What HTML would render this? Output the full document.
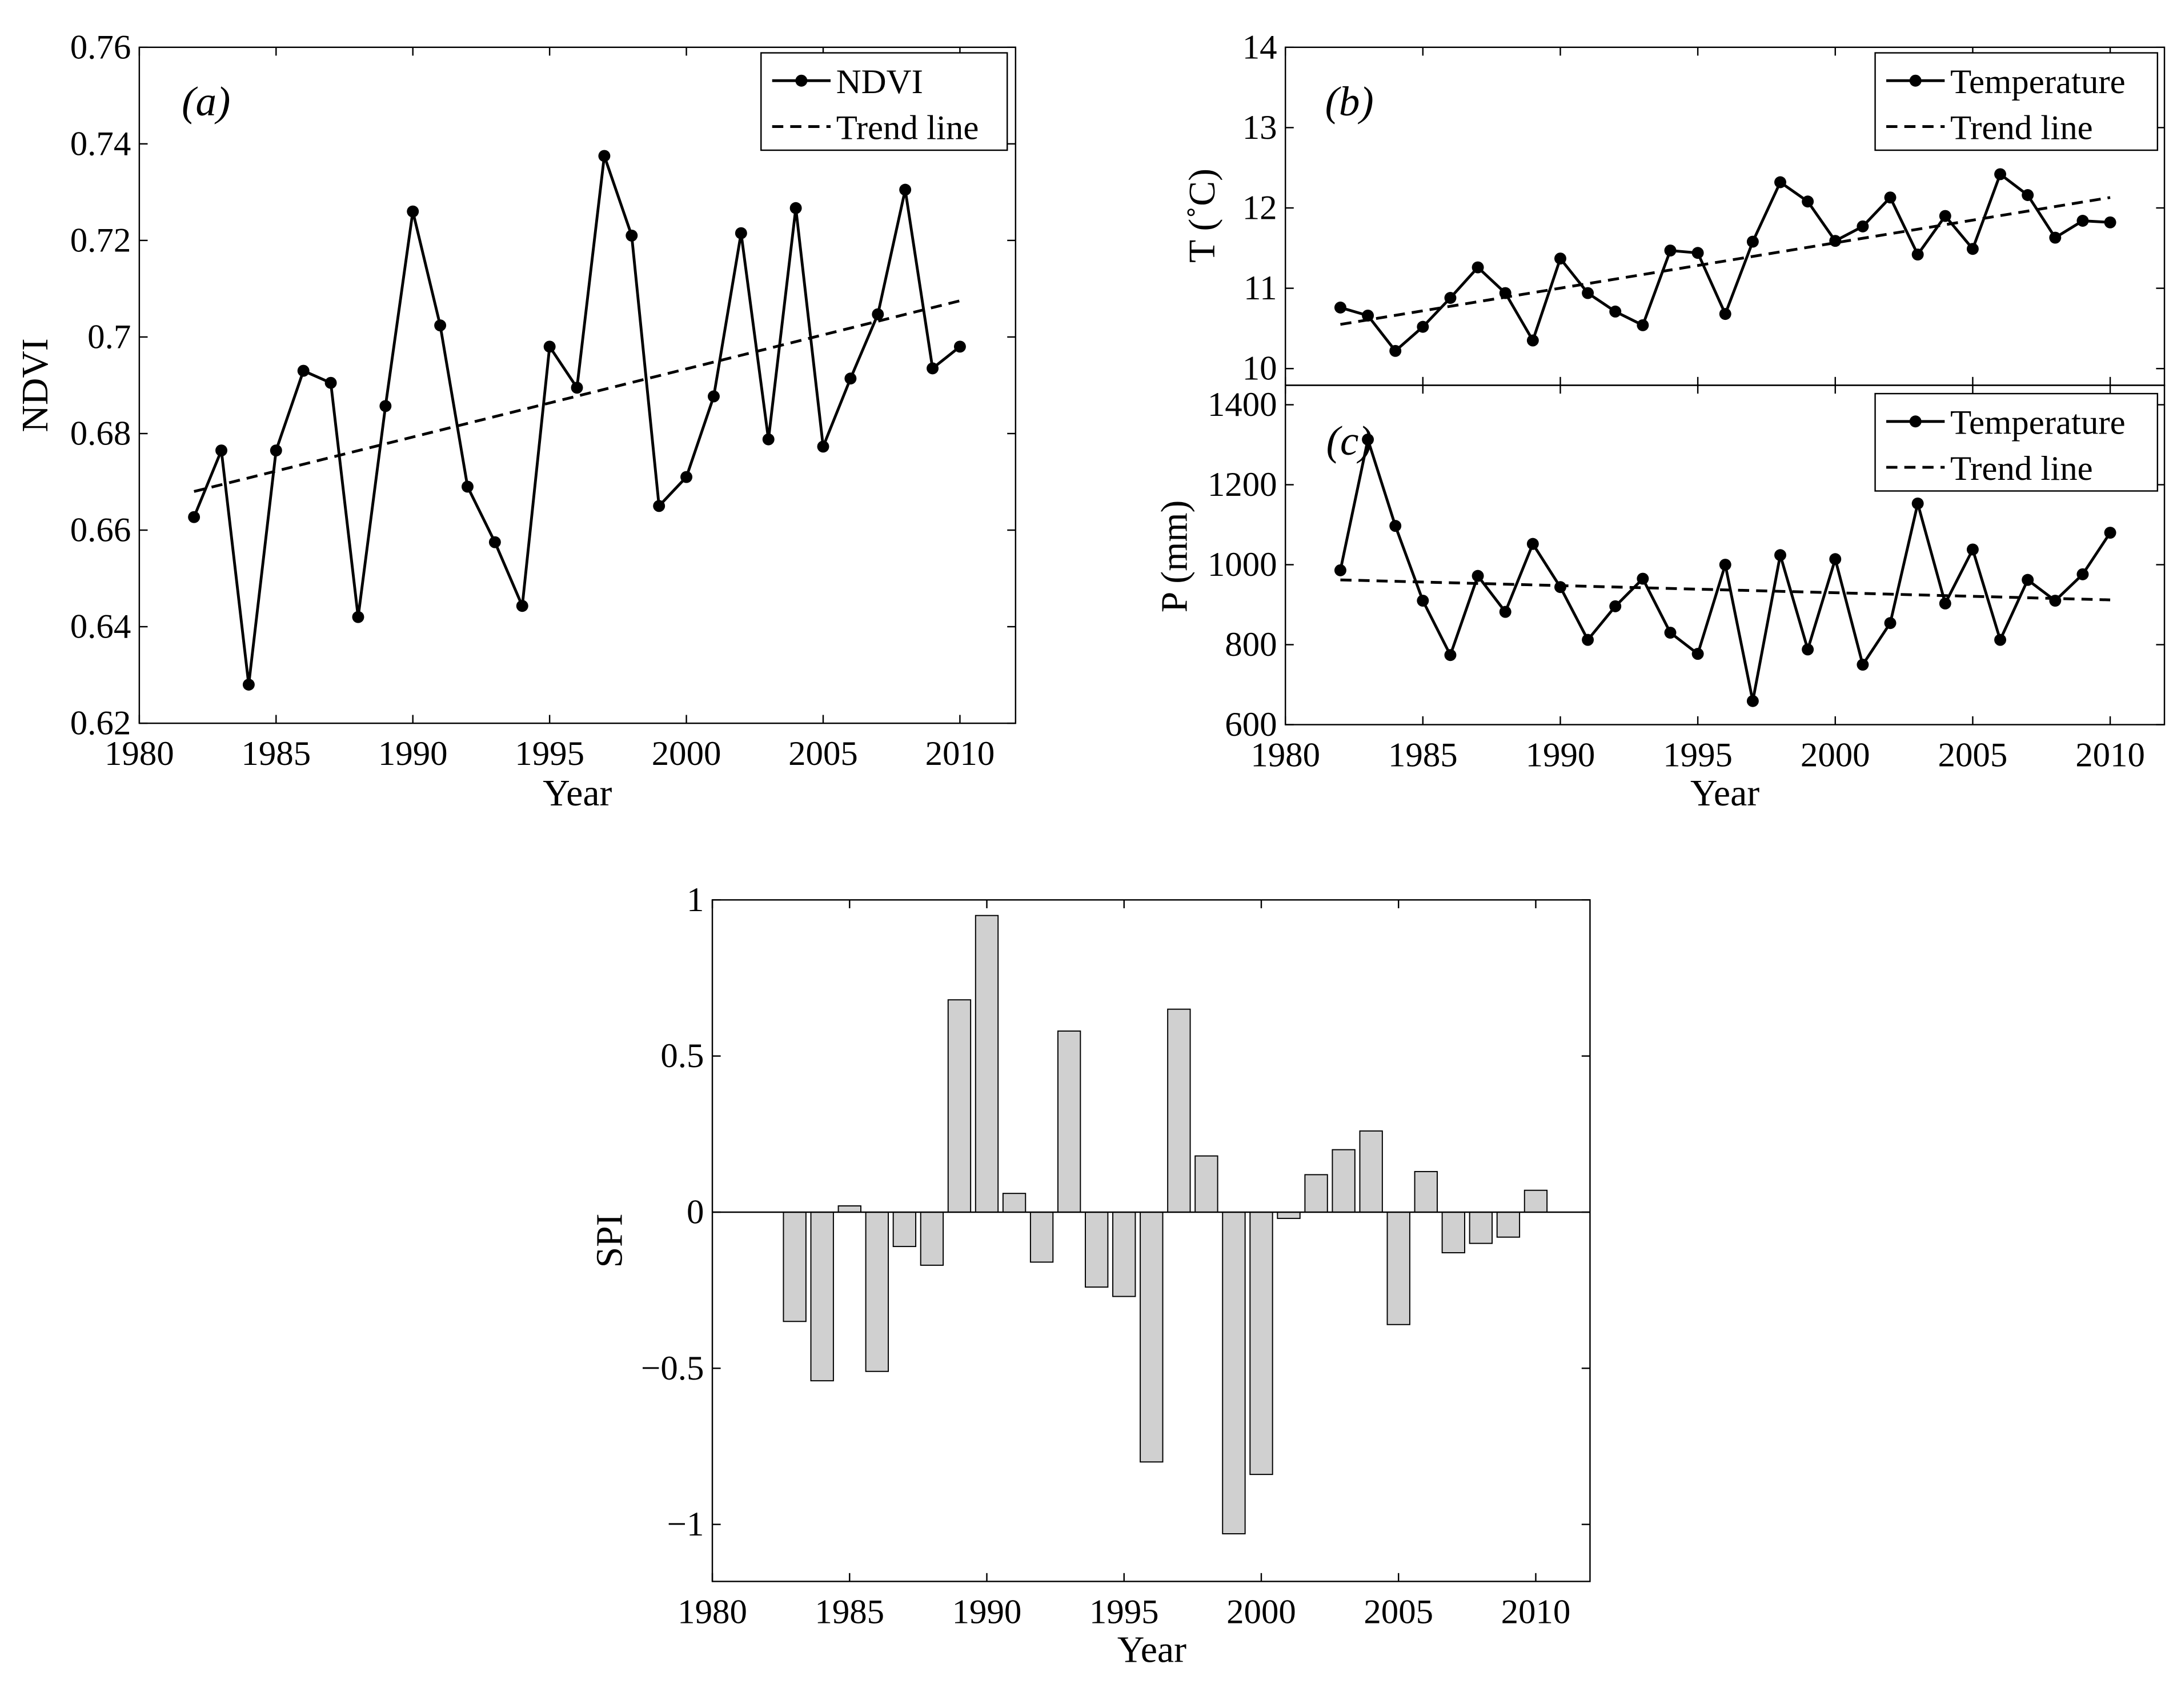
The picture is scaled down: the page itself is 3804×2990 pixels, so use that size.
<!DOCTYPE html>
<html><head><meta charset="utf-8"><style>
html,body{margin:0;padding:0;background:#fff;}
svg{display:block;font-family:"Liberation Serif",serif;}
</style></head><body>
<svg id="fig" width="3804" height="2990" viewBox="0 0 1562 1228" xmlns="http://www.w3.org/2000/svg">
<rect width="1562" height="1228" fill="#fff"/>
</svg>
<script>
const years = [1982,1983,1984,1985,1986,1987,1988,1989,1990,1991,1992,1993,1994,1995,1996,1997,1998,1999,2000,2001,2002,2003,2004,2005,2006,2007,2008,2009,2010];
const ndvi = [0.6627,0.6765,0.628,0.6765,0.693,0.6905,0.642,0.6857,0.726,0.7024,0.669,0.6575,0.6443,0.698,0.6895,0.7375,0.721,0.665,0.671,0.6877,0.7215,0.6788,0.7267,0.6773,0.6914,0.7047,0.7305,0.6935,0.698];
const ndviTrend = [0.668,0.7075];
const temp = [10.76,10.66,10.22,10.52,10.88,11.26,10.94,10.35,11.37,10.94,10.71,10.54,11.47,11.44,10.68,11.58,12.32,12.08,11.59,11.77,12.13,11.42,11.9,11.49,12.42,12.16,11.63,11.84,11.82];
const tempTrend = [10.55,12.13];
const precip = [986,1313,1097,910,774,972,882,1052,944,812,896,965,830,777,1000,659,1024,788,1014,750,854,1153,903,1038,812,962,910,976,1080];
const precipTrend = [962,912];
const spiYears = [1983,1984,1985,1986,1987,1988,1989,1990,1991,1992,1993,1994,1995,1996,1997,1998,1999,2000,2001,2002,2003,2004,2005,2006,2007,2008,2009,2010];
const spi = [-0.35,-0.54,0.02,-0.51,-0.11,-0.17,0.68,0.95,0.06,-0.16,0.58,-0.24,-0.27,-0.80,0.65,0.18,-1.03,-0.84,-0.02,0.12,0.20,0.26,-0.36,0.13,-0.13,-0.10,-0.08,0.07];
const xTicks = [1980,1985,1990,1995,2000,2005,2010];
const ndviTicks = ["0.62","0.64","0.66","0.68","0.7","0.72","0.74","0.76"];
const tTicks = ["10","11","12","13","14"];
const pTicks = ["600","800","1000","1200","1400"];
const spiTicks = ["−1","−0.5","0","0.5","1"];
const spiTickVals = [-1,-0.5,0,0.5,1];

const NS="http://www.w3.org/2000/svg";
const svg=document.getElementById('fig');
function el(tag,attrs,parent,text){const e=document.createElementNS(NS,tag);for(const k in attrs)e.setAttribute(k,attrs[k]);if(text!==undefined)e.textContent=text;(parent||svg).appendChild(e);return e;}
function lin(d0,d1,r0,r1){return v=>r0+(v-d0)/(d1-d0)*(r1-r0);}

function axes(name,L,T,R,B,xs,ys,yTickVals,yTickLabels,showX){
  const g=el('g',{},svg);
  
  
  el('rect',{x:L,y:T,width:R-L,height:B-T,fill:'none',stroke:'#000','stroke-width':1},g);
  xTicks.forEach(t=>{const x=xs(t);
    el('line',{x1:x,y1:B,x2:x,y2:B-6,stroke:'#000'},g);
    el('line',{x1:x,y1:T,x2:x,y2:T+6,stroke:'#000'},g);
    if(showX){const tx=el('text',{x:x,y:B+30,'font-size':25,'text-anchor':'middle'},g,String(t));
      }
  });
  yTickVals.forEach((v,i)=>{const y=ys(v);
    el('line',{x1:L,y1:y,x2:L+6,y2:y,stroke:'#000'},g);
    el('line',{x1:R,y1:y,x2:R-6,y2:y,stroke:'#000'},g);
    const tx=el('text',{x:L-6,y:y+8,'font-size':25,'text-anchor':'end'},g,yTickLabels[i]);
    
  });
  return g;
}
function series(g,xs,ys,xv,yv,trend,name){
  const pts=xv.map((x,i)=>xs(x)+','+ys(yv[i])).join(' ');
  const pl=el('polyline',{points:pts,fill:'none',stroke:'#000','stroke-width':2},g);
  
  xv.forEach((x,i)=>{const c=el('circle',{cx:xs(x),cy:ys(yv[i]),r:4.3,fill:'#000'},g);
    });
  const tl=el('line',{x1:xs(xv[0]),y1:ys(trend[0]),x2:xs(xv[xv.length-1]),y2:ys(trend[1]),stroke:'#000','stroke-width':2,'stroke-dasharray':'8,5'},g);
  
}
function legend(name,x,y,w,label){
  const g=el('g',{},svg);
  
  el('rect',{x:x,y:y,width:w,height:70,fill:'#fff',stroke:'#000'},g);
  el('line',{x1:x+8,y1:y+20,x2:x+50,y2:y+20,stroke:'#000','stroke-width':2},g);
  el('circle',{cx:x+29,cy:y+20,r:4.3,fill:'#000'},g);
  el('text',{x:x+54,y:y+29,'font-size':25},g,label);
  el('line',{x1:x+8,y1:y+53,x2:x+50,y2:y+53,stroke:'#000','stroke-width':2,'stroke-dasharray':'8,5'},g);
  el('text',{x:x+54,y:y+62,'font-size':25},g,'Trend line');
}
function label(name,x,y,txt,rot,size,italic){
  const a={x:x,y:y,'font-size':size||27,'text-anchor':'middle'};
  if(rot)a.transform='rotate(-90 '+x+' '+y+')';
  if(italic)a['font-style']='italic';
  const t=el('text',a,svg,txt);
  
}

// Panel a
{const xs=lin(1980,2010,100,690),ys=lin(0.62,0.76,520,34);
 const g=axes('ndvi-axes',100,34,730,520,xs,ys,ndviTicks.map(Number),ndviTicks,true);
 series(g,xs,ys,years,ndvi,ndviTrend,'ndvi');
 legend('ndvi-legend',547,38,177,'NDVI');
 label('panel-a-label',148,83,'(a)',false,30,true);
 label('ndvi-x-axis-title',415,579,'Year');
 label('ndvi-y-axis-title',34,277,'NDVI',true);}
// Panel b
{const xs=lin(1980,2010,924,1517),ys=lin(10,14,265,34);
 const g=axes('temperature-axes',924,34,1556,277,xs,ys,tTicks.map(Number),tTicks,false);
 series(g,xs,ys,years,temp,tempTrend,'temperature');
 legend('temperature-legend',1348,38,203,'Temperature');
 label('panel-b-label',970,83,'(b)',false,30,true);
 label('temperature-y-axis-title',873,155,'T (˚C)',true);}
// Panel c
{const xs=lin(1980,2010,924,1517),ys=lin(600,1400,521,291);
 const g=axes('precipitation-axes',924,277,1556,521,xs,ys,pTicks.map(Number),pTicks,true);
 series(g,xs,ys,years,precip,precipTrend,'precipitation');
 legend('precipitation-legend',1348,283,203,'Temperature');
 label('panel-c-label',970,327,'(c)',false,30,true);
 label('precipitation-x-axis-title',1240,579,'Year');
 label('precipitation-y-axis-title',853,400,'P (mm)',true);}
// SPI
{const xs=lin(1980,2010,512,1104),ys=lin(-1,1,1096,647);
 const g=axes('spi-axes',512,647,1143,1137,xs,ys,spiTickVals,spiTicks,true);
 const bw=0.82*(xs(1)-xs(0));
 spiYears.forEach((yr,i)=>{const v=spi[i];const y0=ys(0),y1=ys(v);
   const r=el('rect',{x:xs(yr)-bw/2,y:Math.min(y0,y1),width:bw,height:Math.abs(y1-y0),fill:'#d0d0d0',stroke:'#000','stroke-width':0.8},g);
   });
 el('line',{x1:512,y1:ys(0),x2:1143,y2:ys(0),stroke:'#000'},g);
 label('spi-x-axis-title',828,1195,'Year');
 label('spi-y-axis-title',447,892,'SPI',true);}
</script>
</body></html>
